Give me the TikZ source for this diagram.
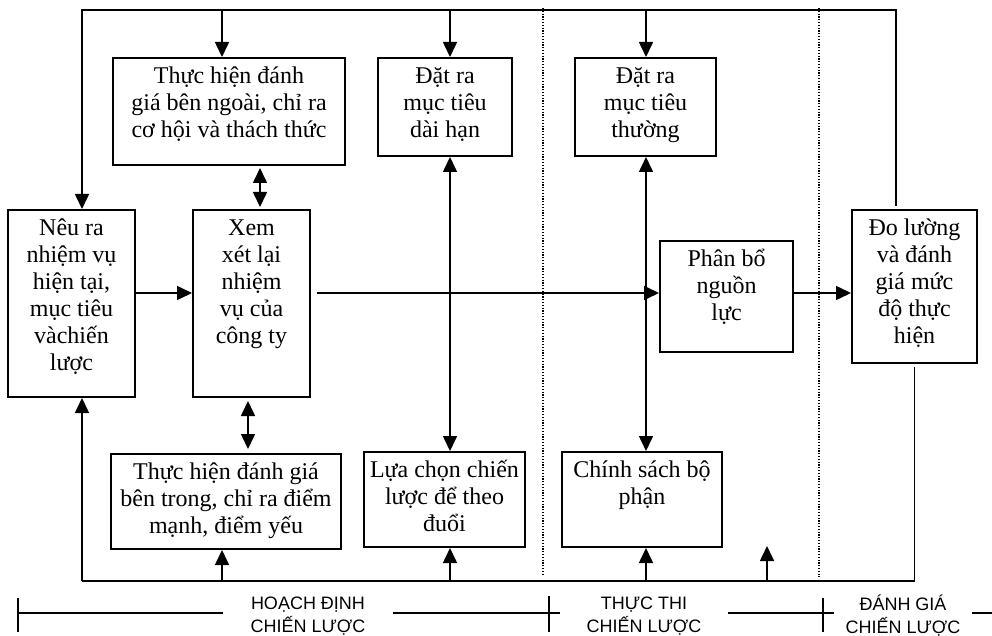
\documentclass[tikz,border=0pt]{standalone}
\usepackage{fontspec}
\setmainfont{Liberation Serif}
\newfontfamily\phasefont{Liberation Sans}
\usetikzlibrary{arrows.meta}
% top-aligned, centred text inside a box of fixed size
\newcommand\boxtxt[3]{\parbox[c][#2][t]{#1}{\centering\vspace*{7pt}\strut #3\par}}

\begin{document}
\begin{tikzpicture}[x=1pt,y=-1pt,
  blk/.style={draw, line width=2pt, inner sep=0pt, font=\fontsize{24}{27}\selectfont},
  ln/.style={line width=1.6pt},
  arr/.style={ln, -{Triangle[length=15pt,width=14pt]}},
  dbl/.style={ln, {Triangle[length=15pt,width=14pt]}-{Triangle[length=15pt,width=14pt]}},
  sep/.style={line width=1.3pt, dash pattern=on 1.2pt off 1.6pt},
  phase/.style={font=\phasefont\fontsize{18}{23}\selectfont, align=center, inner sep=0pt},
  tick/.style={line width=1.6pt}]
\useasboundingbox (0,0) rectangle (992,636);

% phase separators
\coordinate (s1a) at (543,8);  \coordinate (s1b) at (543,575);
\coordinate (s2a) at (819,8);  \coordinate (s2b) at (819,577);
\draw[sep] (s1a) -- (s1b);
\draw[sep] (s2a) -- (s2b);

% process boxes
\node[blk] (neu)  at (71.5,303.5) {\boxtxt{127pt}{187pt}{Nêu ra\\nhiệm vụ\\hiện tại,\\mục tiêu\\vàchiến\\lược}};
\node[blk] (ext)  at (229,111.5)  {\boxtxt{232pt}{107pt}{Thực hiện đánh\\giá bên ngoài, chỉ ra\\cơ hội và thách thức}};
\node[blk] (dai)  at (445,107)    {\boxtxt{134pt}{98pt}{Đặt ra\\mục tiêu\\dài hạn}};
\node[blk] (thg)  at (645.5,107)  {\boxtxt{141pt}{98pt}{Đặt ra\\mục tiêu\\thường}};
\node[blk] (xem)  at (251.5,303.5){\boxtxt{117pt}{187pt}{Xem\\xét lại\\nhiệm\\vụ của\\công ty}};
\node[blk] (phan) at (726.5,296.5){\boxtxt{133pt}{111pt}{Phân bổ\\nguồn\\lực}};
\node[blk] (dolu) at (914.5,286.5){\boxtxt{125pt}{153pt}{Đo lường\\và đánh\\giá mức\\độ thực\\hiện}};
\node[blk] (int)  at (226,501.5)  {\boxtxt{230pt}{95pt}{Thực hiện đánh giá\\bên trong, chỉ ra điểm\\mạnh, điểm yếu}};
\node[blk] (lua)  at (444.5,499.5){\boxtxt{161pt}{95pt}{Lựa chọn chiến\\lược để theo\\đuổi}};
\node[blk] (cs)   at (642,499.5)  {\boxtxt{160pt}{95pt}{Chính sách bộ\\phận}};

% feedback bus columns
\coordinate (cA) at (82,10);
\coordinate (cB) at (222,10);
\coordinate (cC) at (450,10);
\coordinate (cD) at (646,10);
\coordinate (cF) at (896,10);
\coordinate (bA) at (82,581);
\coordinate (bB) at (222,581);
\coordinate (bE) at (767,581);
\coordinate (free) at (767,546);
\coordinate (row) at (0,293);
\coordinate (xo) at ([xshift=6pt]xem.east);
\coordinate (dx1) at (260,0);
\coordinate (dx2) at (248,0);
\coordinate (ftop) at ([yshift=3pt]dolu.north);

% top feedback loop
\draw[arr] (cF |- ftop) -- (cF) -- (cA) -- (cA |- neu.north);
\draw[arr] (cB) -- (cB |- ext.north);
\draw[arr] (cC |- cA) -- (cC |- dai.north);
\draw[arr] (cD |- cA) -- (cD |- thg.north);

% bottom feedback loop
\draw[ln] ([yshift=-3pt]dolu.south) -- (dolu.south |- bA) -- (bA);
\draw[arr] (bA) -- (bA |- neu.south);
\draw[arr] (bB) -- (bB |- int.south);
\draw[arr] (cC |- bA) -- (cC |- lua.south);
\draw[arr] (cD |- bA) -- (cD |- cs.south);
\draw[arr] (bE) -- (free);

% main flow
\draw[arr] (neu.east |- row) -- (xem.west |- row);
\draw[arr] (xo |- row) -- (phan.west |- row);
\draw[arr] (phan.east |- row) -- (dolu.west |- row);

% two-way links
\draw[dbl, shorten <=2pt, shorten >=2pt] (dx1 |- ext.south) -- (dx1 |- xem.north);
\draw[dbl, shorten <=3pt, shorten >=4pt] (dx2 |- xem.south) -- (dx2 |- int.north);
\draw[dbl] (cC |- dai.south) -- (cC |- lua.north);
\draw[dbl] (cD |- thg.south) -- (cD |- cs.north);

% phase timeline
\coordinate (k1) at (18,613);
\coordinate (k2) at (549,613);
\coordinate (k3) at (823,613);
\coordinate (kend) at (992,613);
\node[phase, minimum width=170pt] (tH) at (308,616) {HOẠCH ĐỊNH\\CHIẾN LƯỢC};
\node[phase, minimum width=167pt] (tT) at (644,616) {THỰC THI\\CHIẾN LƯỢC};
\node[phase, minimum width=137pt] (tD) at (903,616) {ĐÁNH GIÁ\\CHIẾN LƯỢC};
\draw[tick] (k1) -- (k1 -| tH.west);
\draw[tick] (tH.east |- k1) -- (k2) -- (k2 -| tT.west);
\draw[tick] (tT.east |- k1) -- (k3) -- (k3 -| tD.west);
\draw[tick] (tD.east |- k1) -- (kend);
\draw[tick] (k1) ++(0,-15) -- ++(0,34);
\draw[tick] (k2) ++(0,-17) -- ++(0,36);
\draw[tick] (k3) ++(0,-15) -- ++(0,34);
\end{tikzpicture}
\end{document}
